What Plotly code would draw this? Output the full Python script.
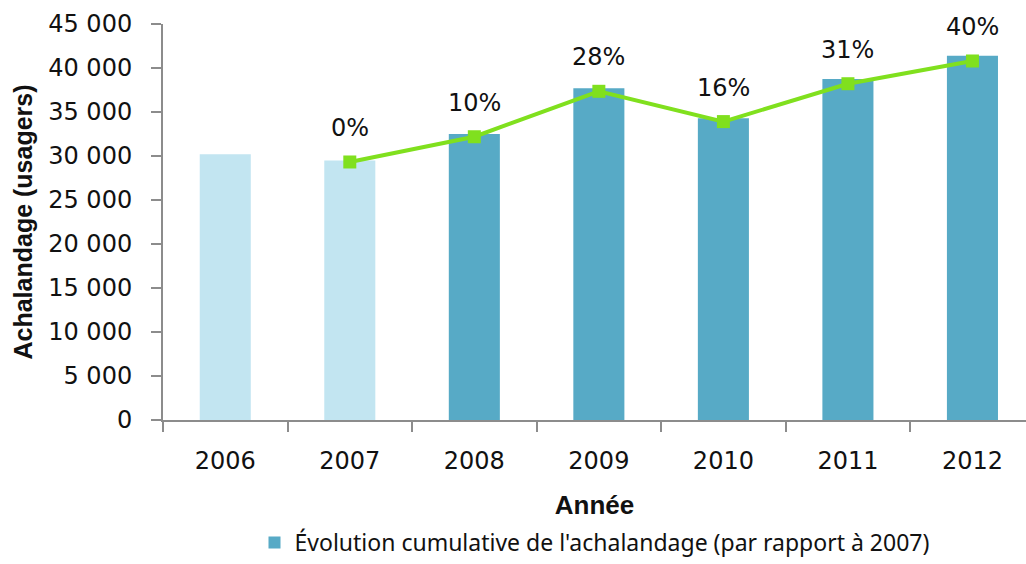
import plotly.graph_objects as go

years = ["2006", "2007", "2008", "2009", "2010", "2011", "2012"]
ridership = [30200, 29500, 32500, 37700, 34300, 38750, 41400]
base_years = ["2006", "2007"]
pct_years = ["2007", "2008", "2009", "2010", "2011", "2012"]
pct_values = [0.00, 0.10, 0.28, 0.16, 0.31, 0.40]

legend_name = "Évolution cumulative de l'achalandage (par rapport à 2007)"
light_blue = "#C2E5F1"
dark_blue = "#57AAC6"
green = "#80E01E"
axis_gray = "#8C8C8C"
tick_font = dict(family="DejaVu Sans", size=24, color="#111111")

light_x = [y for y in years if y in base_years]
light_y = [v for y, v in zip(years, ridership) if y in base_years]
dark_x = [y for y in years if y not in base_years]
dark_y = [v for y, v in zip(years, ridership) if y not in base_years]

fig = go.Figure()
fig.add_trace(go.Bar(
    x=light_x, y=light_y, marker=dict(color=light_blue, line=dict(width=0)),
    width=0.41, showlegend=False,
))
fig.add_trace(go.Bar(
    x=dark_x, y=dark_y, marker=dict(color=dark_blue, line=dict(width=0)),
    width=0.41, name=legend_name, showlegend=True,
))
fig.add_trace(go.Scatter(
    x=pct_years, y=pct_values, yaxis="y2", mode="lines+markers",
    line=dict(color=green, width=4),
    marker=dict(symbol="square", size=13, color=green),
    showlegend=False,
))

for yr, p in zip(pct_years, pct_values):
    fig.add_annotation(x=years.index(yr), y=p, yref="y2", xref="x", text=f"{round(p*100)}%",
                       showarrow=False, yshift=34, font=tick_font)

fig.update_layout(
    width=1026, height=564,
    margin=dict(l=163, r=0, t=24, b=144),
    plot_bgcolor="white", paper_bgcolor="white",
    separators=", ",
    barmode="overlay",
    xaxis=dict(
        type="category", categoryorder="array", categoryarray=years,
        range=[-0.5, 6.43], automargin=False,
        showline=True, linecolor=axis_gray, linewidth=2,
        ticks="outside", tickson="boundaries", ticklen=10, tickcolor=axis_gray, tickwidth=2,
        tickfont=tick_font, ticklabelstandoff=18, showgrid=False,
        title=dict(text="<b>Année</b>", font=dict(family="Liberation Sans", size=26, color="#111111"),
                   standoff=22),
    ),
    yaxis=dict(
        range=[0, 45000], dtick=5000, tickformat=",d", automargin=False,
        showline=True, linecolor=axis_gray, linewidth=2,
        ticks="outside", ticklen=10, tickcolor=axis_gray, tickwidth=2,
        tickfont=tick_font, ticklabelstandoff=14, showgrid=False, zeroline=False,
        title=dict(text="<b>Achalandage (usagers)</b>",
                   font=dict(family="Liberation Sans", size=25, color="#111111"), standoff=8),
    ),
    yaxis2=dict(overlaying="y", range=[-1.0218, 0.5465], showticklabels=False,
                showline=False, showgrid=False, zeroline=False, ticks=""),
    legend=dict(orientation="h", x=0.5, xanchor="center", y=-0.3636, yanchor="bottom",
                font=dict(family="Noto Sans", size=23, color="#111111")),
)

fig.write_html("out.html", config={"displayModeBar": False},
               post_script="document.body.style.margin='0';")
